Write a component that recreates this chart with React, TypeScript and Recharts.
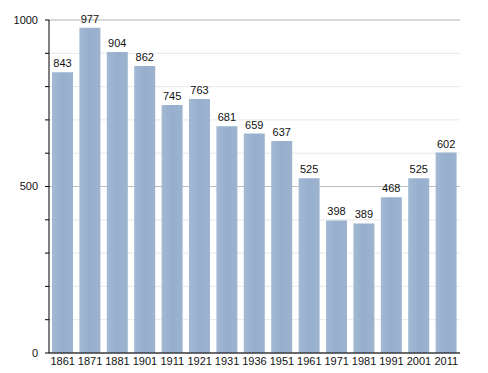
import React from 'react';
import { BarChart, Bar, XAxis, YAxis, CartesianGrid, LabelList } from 'recharts';

const years = ['1861', '1871', '1881', '1901', '1911', '1921', '1931', '1936', '1951', '1961', '1971', '1981', '1991', '2001', '2011'];
const population = [843, 977, 904, 862, 745, 763, 681, 659, 637, 525, 398, 389, 468, 525, 602];
const yTicks = [0, 100, 200, 300, 400, 500, 600, 700, 800, 900, 1000];
const yLabelled = [0, 500, 1000];

const data = years.map((year, i) => ({ year, value: population[i] }));

const font = 'Liberation Sans, Arial, sans-serif';

export default function App() {
  return (
    <div style={{ position: 'absolute', left: 0, top: 0, background: '#fff', fontFamily: font }}>
      <BarChart
        width={488}
        height={373}
        data={data}
        margin={{ top: 20, right: 28, left: 0, bottom: 2 }}
        barCategoryGap={3}
      >
        <defs>
          <linearGradient id="barFill" x1="0" y1="0" x2="1" y2="0">
            <stop offset="0%" stopColor="#a3b9d4" />
            <stop offset="50%" stopColor="#96afcd" />
            <stop offset="100%" stopColor="#9db4d0" />
          </linearGradient>
        </defs>
        <CartesianGrid vertical={false} stroke="#e8e8e8" />
        <CartesianGrid vertical={false} horizontalValues={yLabelled} stroke="#bdbdbd" />
        <XAxis
          dataKey="year"
          height={18}
          tickLine={false}
          tickSize={2}
          tickMargin={2}
          axisLine={{ stroke: '#000' }}
          interval={0}
          tick={{ fontSize: 11, fill: '#111', fontFamily: font }}
        />
        <YAxis
          width={49}
          domain={[0, 1000]}
          ticks={yTicks}
          interval={0}
          tickSize={4}
          tickMargin={7}
          tickFormatter={(v: number) => (yLabelled.includes(v) ? String(v) : '')}
          axisLine={{ stroke: '#000' }}
          tickLine={{ stroke: '#000' }}
          tick={{ fontSize: 11, fill: '#111', fontFamily: font }}
        />
        <Bar dataKey="value" fill="url(#barFill)" isAnimationActive={false}>
          <LabelList
            dataKey="value"
            position="top"
            offset={5}
            style={{ fontSize: 11, fill: '#111', fontFamily: font }}
          />
        </Bar>
      </BarChart>
    </div>
  );
}
